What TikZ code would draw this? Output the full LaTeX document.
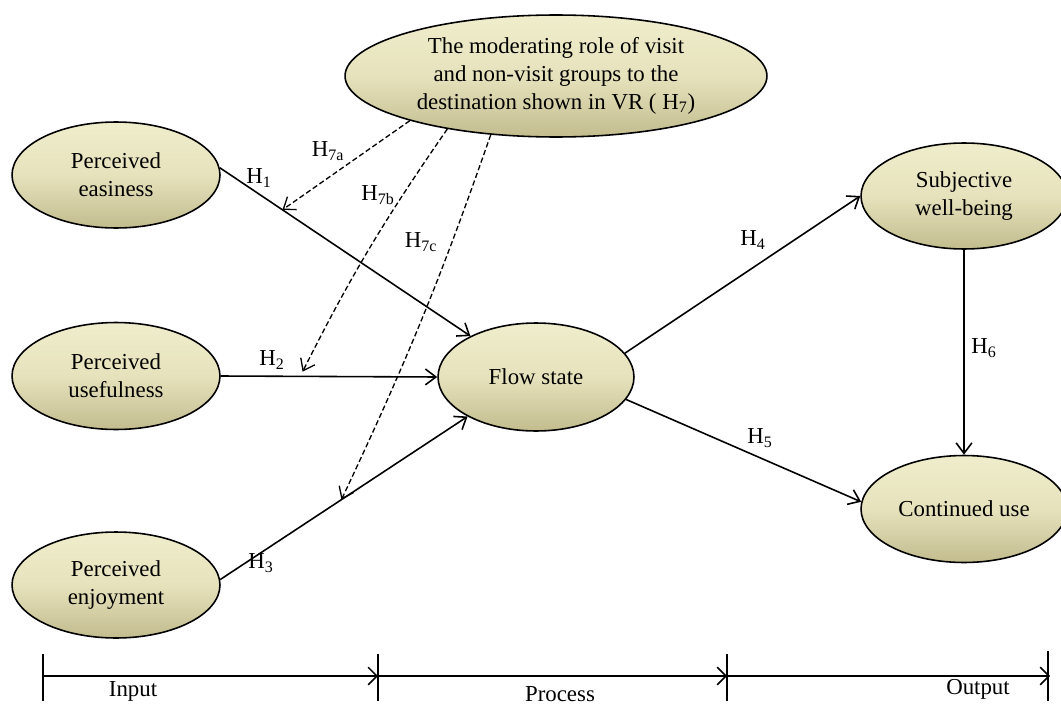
\documentclass[tikz,border=0pt]{standalone}
\usepackage{fontspec}
\setmainfont{Liberation Serif}
\usetikzlibrary{arrows.meta,shapes.geometric}

\definecolor{fuelloben}{RGB}{240,237,204}
\definecolor{fuellmitte}{RGB}{230,226,188}
\definecolor{fuellunten}{RGB}{194,188,142}

\tikzset{
	konstrukt/.style={ellipse, draw=black, line width=0.9pt, inner sep=0pt,
		top color=fuelloben, bottom color=fuellunten, middle color=fuellmitte,
		align=center, font=\fontsize{13}{16}\selectfont},
	pfeil/.style={-{Straight Barb[length=6pt,width=9pt]}, line width=0.9pt},
	moderation/.style={-{Straight Barb[length=6pt,width=9pt]}, line width=0.75pt,
		dash pattern=on 3pt off 1.6pt},
	hyp/.style={font=\fontsize{13}{16}\selectfont, inner sep=0pt},
	achse/.style={-{Straight Barb[length=5pt,width=10pt]}, line width=0.9pt}
}

\begin{document}
\begin{tikzpicture}[x=0.02cm, y=-0.02cm]
		\useasboundingbox (0,0) rectangle (1061,706);
		
		% zeichne Konstrukte
		\node[konstrukt, minimum width=8.44cm, minimum height=2.44cm] (mod) at (556,76)
			{The moderating role of visit\\and non-visit groups to the\\destination shown in VR ( H\textsubscript{7})};
		\node[konstrukt, minimum width=4.16cm, minimum height=2.12cm] (easy) at (116,175) {Perceived\\easiness};
		\node[konstrukt, minimum width=4.16cm, minimum height=2.14cm] (use) at (116,376) {Perceived\\usefulness};
		\node[konstrukt, minimum width=4.16cm, minimum height=2.12cm] (enjoy) at (116,585) {Perceived\\enjoyment};
		\node[konstrukt, minimum width=3.92cm, minimum height=2.16cm] (flow) at (536,377) {Flow state};
		\node[konstrukt, minimum width=4.12cm, minimum height=2.12cm] (swb) at (964,196) {Subjective\\well-being};
		\node[konstrukt, minimum width=4.12cm, minimum height=2.14cm] (cu) at (964,509) {Continued use};
		
		% zeichne Hypothesen
		\draw[pfeil] (easy.4) -- coordinate[pos=0.25] (m1) (flow.148);
		\draw[pfeil] (use.east) -- coordinate[pos=0.367] (m2) (flow.west);
		\draw[pfeil] (enjoy.3) -- coordinate[pos=0.49] (m3) (flow.210);
		\draw[pfeil] (flow.15) -- (swb.west);
		\draw[pfeil] (flow.-14) -- (cu.176);
		\draw[pfeil] (swb.south) -- (cu.north);
		
		% zeichne Moderation
		\draw[moderation] (mod.197) -- (m1);
		\draw[moderation, shorten >=3pt] (mod.206) to[bend right=4] (m2);
		\draw[moderation] (mod.222) to[bend left=3] (m3);
		
		% zeichne Labels
		\node[hyp] (l1) at (259,178) {H\textsubscript{1}};
		\node[hyp] (l2) at (272,360) {H\textsubscript{2}};
		\node[hyp] (l3) at (261,563) {H\textsubscript{3}};
		\node[hyp] (l4) at (753,240) {H\textsubscript{4}};
		\node[hyp] (l5) at (760,438) {H\textsubscript{5}};
		\node[hyp] (l6) at (984,348) {H\textsubscript{6}};
		\node[hyp] (l7a) at (328,151) {H\textsubscript{7a}};
		\node[hyp] (l7b) at (378,195) {H\textsubscript{7b}};
		\node[hyp] (l7c) at (421,242) {H\textsubscript{7c}};
		
		% zeichne Zeitachse
		\coordinate (t0) at (43,676);
		\coordinate (t1) at (378,676);
		\coordinate (t2) at (727,676);
		\coordinate (t3) at (1050,676);
		\draw[achse] (t0) -- (t1);
		\draw[achse] (t1) -- (t2);
		\draw[achse] (t2) -- (t3);
		\foreach \t in {t0,t1,t2} {
			\draw[line width=0.9pt] ([yshift=0.44cm]\t) -- ([yshift=-0.5cm]\t);
		}
		\draw[line width=0.9pt] ([xshift=-0.04cm, yshift=0.5cm]t3) -- ([xshift=-0.04cm, yshift=-0.5cm]t3);
		\node[hyp] (input) at (133,691) {Input};
		\node[hyp] (process) at (560,694) {Process};
		\node[hyp] (output) at (978,689) {Output};
	\end{tikzpicture}
\end{document}
